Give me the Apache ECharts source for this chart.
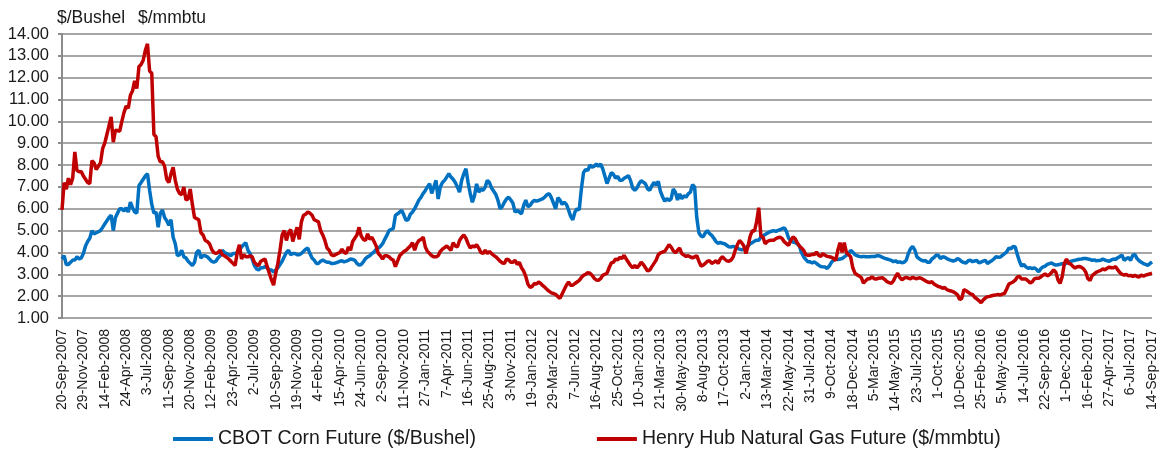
<!DOCTYPE html>
<html>
<head>
<meta charset="utf-8">
<script src="https://cdn.jsdelivr.net/npm/echarts@6/dist/echarts.min.js"></script>
<style>
html,body{margin:0;padding:0;background:#fff;}
#chart{width:1163px;height:449px;}
</style>
</head>
<body>
<div id="chart"></div>
<script>
// Tick labels (every 10th weekly observation)
const tickLabels = ["20-Sep-2007","29-Nov-2007","14-Feb-2008","24-Apr-2008","3-Jul-2008","11-Sep-2008","20-Nov-2008","12-Feb-2009","23-Apr-2009","2-Jul-2009","10-Sep-2009","19-Nov-2009","4-Feb-2010","15-Apr-2010","24-Jun-2010","2-Sep-2010","11-Nov-2010","27-Jan-2011","7-Apr-2011","16-Jun-2011","25-Aug-2011","3-Nov-2011","19-Jan-2012","29-Mar-2012","7-Jun-2012","16-Aug-2012","25-Oct-2012","10-Jan-2013","21-Mar-2013","30-May-2013","8-Aug-2013","17-Oct-2013","2-Jan-2014","13-Mar-2014","22-May-2014","31-Jul-2014","9-Oct-2014","18-Dec-2014","5-Mar-2015","14-May-2015","23-Jul-2015","1-Oct-2015","10-Dec-2015","25-Feb-2016","5-May-2016","14-Jul-2016","22-Sep-2016","1-Dec-2016","16-Feb-2017","27-Apr-2017","6-Jul-2017","14-Sep-2017"];

const seriesNames = ["CBOT Corn Future ($/Bushel)", "Henry Hub Natural Gas Future ($/mmbtu)"];

// CBOT Corn ($/Bushel), weekly
const corn = [
3.7,3.85,3.45,3.45,3.55,3.65,3.65,3.8,3.7,3.75,3.95,4.3,4.5,4.65,5.0,4.85,4.9,4.95,5.0,5.15,5.3,5.45,5.6,5.7,5.0,5.6,5.8,
6.0,6.0,5.9,6.05,5.85,6.3,6.05,5.85,5.8,7.05,7.2,7.35,7.5,7.6,6.85,6.2,5.8,5.85,5.15,5.8,5.95,5.6,5.45,5.25,5.5,4.7,4.4,3.85,3.9,4.1,3.8,3.75,3.6,3.5,3.4,3.55,4.0,4.1,3.75,3.85,3.85,3.8,3.7,3.6,3.55,3.6,3.75,3.85,4.1,4.0,3.95,
3.9,3.85,3.95,3.95,4.0,4.1,4.25,4.35,4.45,4.1,3.95,3.7,3.4,3.25,3.2,3.3,3.3,3.35,3.3,3.2,3.2,3.1,3.2,3.3,3.45,3.6,3.8,4.0,4.1,3.9,3.95,3.95,3.9,3.9,3.95,4.05,4.15,4.2,3.95,3.75,3.65,3.5,3.5,3.6,3.65,3.6,3.55,3.55,3.5,3.5,3.52,
3.55,3.6,3.62,3.57,3.6,3.64,3.7,3.68,3.64,3.5,3.42,3.45,3.57,3.72,3.8,3.85,3.95,4.02,4.15,4.2,4.28,4.4,4.6,4.78,5.0,5.05,5.1,5.7,5.77,5.85,5.92,5.7,5.47,5.5,5.75,5.85,6.0,6.2,6.4,6.53,6.7,6.84,7.0,7.15,6.7,7.0,7.3,6.45,7.0,7.2,7.3,
7.45,7.6,7.45,7.35,7.2,7.0,6.76,7.3,7.6,7.83,7.2,6.7,6.3,6.6,7.14,6.76,6.9,6.84,6.99,7.3,7.2,6.95,6.8,6.65,6.38,6.0,6.1,6.3,6.45,6.53,6.4,6.25,5.85,5.92,5.85,5.77,6.15,6.4,6.1,6.15,6.3,6.38,6.35,6.38,6.42,6.46,6.55,6.65,6.69,6.5,6.25,
6.0,6.5,6.4,6.2,6.3,6.2,5.95,5.65,5.5,5.85,6.0,5.95,6.9,7.65,7.8,7.75,8.0,7.9,7.95,8.05,7.95,8.05,7.83,7.5,7.15,7.4,7.65,7.58,7.4,7.48,7.3,7.3,7.4,7.45,7.52,7.3,6.95,6.84,6.95,7.15,7.28,7.22,7.14,6.91,6.85,7.05,7.2,7.1,7.25,6.8,6.55,
6.35,6.46,6.38,6.45,6.9,6.76,6.4,6.68,6.46,6.6,6.53,6.68,6.76,7.1,7.0,5.6,4.9,4.75,4.72,4.9,5.0,4.86,4.78,4.65,4.5,4.42,4.46,4.42,4.4,4.33,4.26,4.25,4.28,4.25,4.2,4.15,4.12,4.15,4.22,4.3,4.4,4.45,4.52,4.56,4.56,4.71,4.76,4.82,4.88,4.94,4.97,
5.0,4.96,5.01,5.04,5.09,5.13,4.95,4.65,4.55,4.48,4.46,4.4,4.3,4.0,3.8,3.68,3.57,3.57,3.52,3.57,3.5,3.42,3.36,3.34,3.33,3.27,3.38,3.55,3.64,3.7,3.67,3.7,3.72,3.8,3.87,3.93,4.1,4.02,3.9,3.85,3.82,3.8,3.82,3.8,3.8,3.8,3.82,3.81,3.84,3.86,3.82,
3.77,3.73,3.7,3.67,3.64,3.58,3.62,3.55,3.57,3.53,3.55,3.64,3.95,4.17,4.27,4.12,3.8,3.72,3.65,3.61,3.63,3.55,3.55,3.7,3.77,3.87,3.87,3.72,3.8,3.78,3.72,3.67,3.64,3.61,3.64,3.72,3.67,3.58,3.54,3.52,3.62,3.64,3.58,3.61,3.64,3.52,3.56,3.6,3.64,3.5,3.56,
3.62,3.7,3.8,3.78,3.79,3.87,3.95,4.02,4.2,4.17,4.28,4.25,3.9,3.6,3.37,3.45,3.34,3.28,3.3,3.26,3.3,3.22,3.11,3.26,3.34,3.37,3.45,3.49,3.52,3.46,3.42,3.44,3.46,3.49,3.46,3.52,3.55,3.6,3.62,3.64,3.67,3.69,3.7,3.72,3.72,3.7,3.68,3.64,3.66,3.62,3.63,
3.64,3.7,3.65,3.62,3.6,3.66,3.7,3.68,3.76,3.82,3.87,3.64,3.72,3.76,3.64,3.87,3.91,3.72,3.62,3.55,3.49,3.45,3.41,3.49,3.57
];

// Henry Hub Natural Gas ($/mmbtu), weekly
const gas = [
5.95,7.2,6.9,7.4,7.1,7.4,8.6,7.75,7.7,7.7,7.5,7.35,7.2,7.15,8.2,8.1,7.8,7.95,8.1,8.75,9.0,9.4,9.8,10.2,9.05,9.6,9.58,
9.55,10.0,10.4,10.7,10.6,11.2,11.4,11.85,11.5,12.5,12.6,12.8,13.25,13.55,12.3,12.2,9.4,9.3,8.4,8.15,8.15,7.95,7.35,7.2,7.6,7.9,7.3,6.9,6.7,6.65,7.0,6.4,6.45,6.9,6.2,5.6,5.55,5.5,4.9,4.8,4.55,4.5,4.4,4.15,4.0,3.95,4.0,4.1,3.9,3.85,3.78,
3.7,3.6,3.5,3.4,4.0,4.35,3.7,3.9,3.8,3.8,3.85,3.8,3.55,3.45,3.4,3.6,3.65,3.7,3.35,3.05,2.75,2.5,3.05,3.5,4.1,4.8,5.0,4.55,4.9,5.05,4.5,4.85,5.15,4.6,5.4,5.7,5.75,5.85,5.8,5.7,5.5,5.45,5.4,5.0,4.8,4.55,4.2,4.1,3.9,3.85,3.9,
3.95,4.0,4.15,4.0,3.95,4.25,4.1,4.5,4.65,4.8,5.15,4.75,4.6,4.55,4.85,4.6,4.7,4.5,4.3,3.95,3.85,3.7,3.85,3.85,3.8,3.7,3.65,3.35,3.6,3.85,3.95,4.05,4.1,4.2,4.3,4.45,4.1,4.4,4.55,4.6,4.7,4.25,4.05,3.95,3.85,3.8,3.8,3.85,4.05,4.15,4.22,
4.3,4.2,4.1,4.45,4.3,4.25,4.55,4.7,4.8,4.65,4.4,4.2,4.3,4.25,4.35,4.2,4.0,3.95,4.1,3.95,4.05,3.95,3.87,3.8,3.7,3.6,3.52,3.5,3.7,3.66,3.55,3.55,3.64,3.45,3.55,3.3,3.15,2.9,2.55,2.4,2.45,2.58,2.55,2.65,2.58,2.48,2.4,2.3,2.22,2.15,2.12,
2.08,1.98,1.9,2.1,2.3,2.5,2.65,2.5,2.5,2.58,2.65,2.72,2.85,2.95,3.0,3.08,3.05,2.96,2.82,2.74,2.73,2.8,2.95,3.0,3.05,3.3,3.52,3.55,3.7,3.66,3.78,3.72,3.87,3.7,3.55,3.4,3.3,3.4,3.3,3.4,3.55,3.45,3.3,3.15,3.2,3.35,3.5,3.65,3.9,3.98,4.02,
4.05,4.2,4.35,4.25,4.08,3.98,4.1,4.2,3.95,3.88,3.82,3.85,3.8,3.75,3.8,3.85,3.6,3.38,3.42,3.5,3.6,3.62,3.5,3.55,3.62,3.5,3.7,3.8,3.7,3.62,3.6,3.65,3.78,4.1,4.35,4.55,4.45,4.3,3.95,4.3,4.75,5.0,4.98,5.4,6.05,4.75,4.7,4.4,4.5,4.55,4.56,
4.56,4.63,4.68,4.7,4.63,4.48,4.4,4.33,4.56,4.71,4.63,4.45,4.3,4.2,4.1,3.9,3.87,3.87,3.92,3.9,4.02,3.87,3.82,3.95,3.87,3.82,3.8,3.78,3.72,3.64,4.1,4.45,4.0,4.45,4.0,3.9,3.8,3.3,3.05,2.98,2.92,2.85,2.6,2.7,2.8,2.8,2.88,2.8,2.78,2.82,2.83,
2.84,2.76,2.66,2.62,2.58,2.7,2.9,3.05,2.85,2.75,2.82,2.86,2.82,2.8,2.86,2.82,2.8,2.84,2.82,2.76,2.7,2.65,2.62,2.66,2.56,2.5,2.44,2.42,2.36,2.4,2.3,2.26,2.24,2.2,2.14,2.06,1.85,1.9,2.3,2.25,2.18,2.1,2.08,1.95,1.88,1.8,1.7,1.82,1.92,1.97,1.99,
2.02,2.04,2.06,2.08,2.05,2.1,2.12,2.33,2.55,2.6,2.65,2.73,2.88,2.9,2.78,2.78,2.78,2.7,2.6,2.66,2.8,2.82,2.82,2.88,2.96,3.02,2.93,2.98,3.08,3.2,3.1,2.75,2.58,2.9,3.5,3.7,3.5,3.47,3.36,3.28,3.35,3.36,3.32,3.25,3.1,2.8,2.72,2.94,3.02,3.1,3.14,
3.18,3.25,3.2,3.28,3.33,3.3,3.3,3.35,3.2,3.08,3.0,2.97,3.0,2.93,2.95,2.9,2.96,2.9,2.88,2.96,2.92,2.96,2.99,3.02,3.05
];

const MON = ["Jan","Feb","Mar","Apr","May","Jun","Jul","Aug","Sep","Oct","Nov","Dec"];
function parseD(s){const p=s.split('-');return Date.UTC(+p[2],MON.indexOf(p[1]),+p[0]);}
function fmtD(t){const d=new Date(t);return d.getUTCDate()+'-'+MON[d.getUTCMonth()]+'-'+d.getUTCFullYear();}
const categories = [];
for (let k=0;k<tickLabels.length-1;k++){
  const b=parseD(tickLabels[k]);
  for (let j=0;j<10;j++) categories.push(j===0?tickLabels[k]:fmtD(b+j*7*86400000));
}
categories.push(tickLabels[tickLabels.length-1]);

const FONT = "'Liberation Sans', Arial, sans-serif";
const chart = echarts.init(document.getElementById('chart'), null, {renderer:'canvas'});
chart.setOption({
  animation:false,
  backgroundColor:'#ffffff',
  grid:{left:62,right:11,top:34,bottom:131,containLabel:false},
  graphic:[
    {type:'text',x:57,y:18,style:{text:'$/Bushel',font:"17.5px "+FONT,fill:'#1a1a1a',verticalAlign:'middle'}},
    {type:'text',x:138,y:18,style:{text:'$/mmbtu',font:"17.5px "+FONT,fill:'#1a1a1a',verticalAlign:'middle'}}
  ],
  legend:{
    left:168,top:424,itemWidth:40,itemHeight:4,itemGap:121,icon:'rect',
    textStyle:{fontFamily:FONT,fontSize:19.5,color:'#1a1a1a'},
    data:seriesNames
  },
  xAxis:{
    type:'category',boundaryGap:false,data:categories,
    axisLine:{show:false},axisTick:{show:false},
    axisLabel:{interval:9,rotate:90,margin:11,fontFamily:FONT,fontSize:14,color:'#1a1a1a'},
    splitLine:{show:false}
  },
  yAxis:{
    type:'value',min:1,max:14,interval:1,
    axisLine:{show:true,lineStyle:{color:'#8c8c8c',width:2}},
    axisTick:{show:true,length:4,lineStyle:{color:'#8c8c8c',width:2}},
    axisLabel:{margin:13,fontFamily:FONT,fontSize:16.5,color:'#1a1a1a',formatter:v=>v.toFixed(2)},
    splitLine:{show:true,lineStyle:{color:'#a6a6a6',width:2}}
  },
  series:[
    {name:seriesNames[0],type:'line',data:corn,symbol:'none',lineStyle:{color:'#0070C0',width:3.5},itemStyle:{color:'#0070C0'},z:2},
    {name:seriesNames[1],type:'line',data:gas,symbol:'none',lineStyle:{color:'#C00000',width:3.5},itemStyle:{color:'#C00000'},z:3}
  ]
});
</script>
</body>
</html>
